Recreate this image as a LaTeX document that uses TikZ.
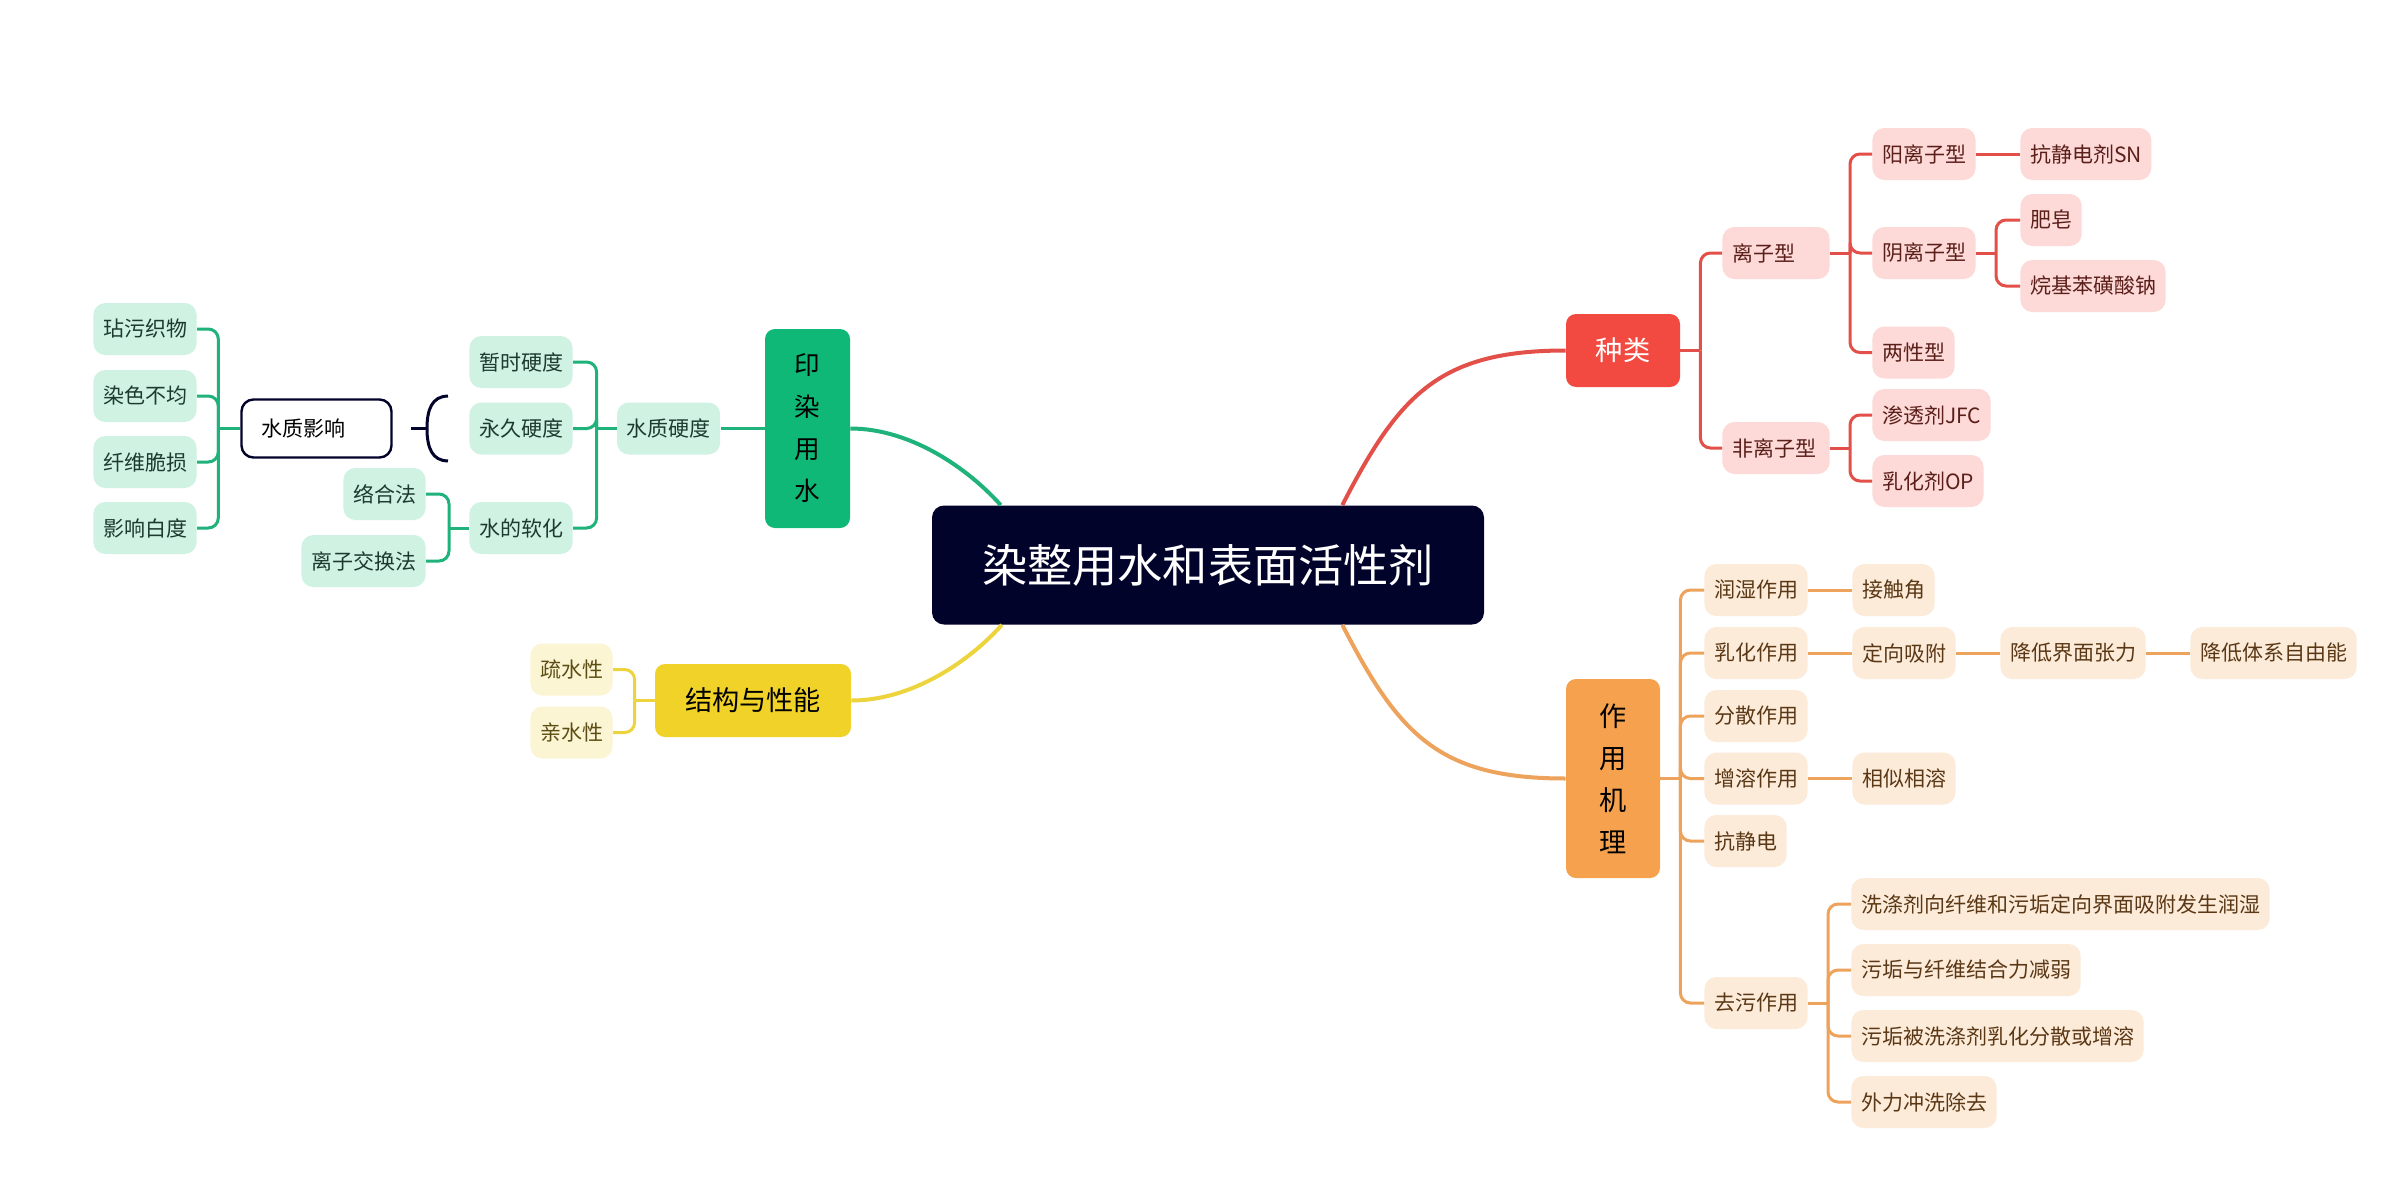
\documentclass[tikz,border=0pt]{standalone}
\usepackage{fontspec}
\setmainfont{Noto Sans CJK SC}
\usetikzlibrary{positioning,calc}
\definecolor{rootc}{HTML}{02032B}
\definecolor{gmain}{HTML}{10B877}
\definecolor{gline}{HTML}{1FB27A}
\definecolor{gsoft}{HTML}{CFF2E3}
\definecolor{gtext}{HTML}{1E3A2F}
\definecolor{rmain}{HTML}{F24A40}
\definecolor{rline}{HTML}{E25049}
\definecolor{rsoft}{HTML}{FDD9D7}
\definecolor{rtext}{HTML}{5B1F1A}
\definecolor{omain}{HTML}{F5A14E}
\definecolor{oline}{HTML}{EEA35C}
\definecolor{osoft}{HTML}{FDEBDA}
\definecolor{otext}{HTML}{5A3815}
\definecolor{ymain}{HTML}{F0D229}
\definecolor{yline}{HTML}{EDD43C}
\definecolor{ysoft}{HTML}{FCF5D4}
\definecolor{ytext}{HTML}{5B4D14}
\tikzset{
  rootbox/.style={fill=rootc,text=white,rounded corners=6pt,minimum width=276pt,
    minimum height=59.5pt,inner sep=0pt,font=\fontsize{22.6}{27}\selectfont},
  mainbox/.style={rounded corners=5pt,inner sep=0pt,align=center,
    font=\fontsize{13.6}{21}\selectfont},
  leaf/.style={rounded corners=6pt,minimum height=26pt,inner xsep=4.8pt,
    inner ysep=0pt,font=\fontsize{10.5}{12}\selectfont},
  gleaf/.style={leaf,fill=gsoft,text=gtext},
  rleaf/.style={leaf,fill=rsoft,text=rtext},
  oleaf/.style={leaf,fill=osoft,text=otext},
  yleaf/.style={leaf,fill=ysoft,text=ytext},
  sumbox/.style={draw=rootc,line width=1.2pt,fill=white,rounded corners=6pt,
    minimum height=29pt,text width=55pt,inner xsep=10pt,align=left,
    font=\fontsize{10.5}{12}\selectfont},
  gedge/.style={draw=gline,line width=1.5pt,rounded corners=5pt},
  redge/.style={draw=rline,line width=1.5pt,rounded corners=5pt},
  oedge/.style={draw=oline,line width=1.5pt,rounded corners=5pt},
  yedge/.style={draw=yline,line width=1.5pt,rounded corners=5pt},
  brk/.style={draw=rootc,line width=1.5pt},
}
\begin{document}
\begin{tikzpicture}[x=0.5pt,y=-0.5pt]
  \fill[white] (0,0) rectangle (2392,1194);
  \node[rootbox] (root) at (1208,565) {染整用水和表面活性剂};

  % 印染用水
  \node[mainbox,fill=gmain,text=black,minimum width=42.5pt,minimum height=99.5pt,
    font=\fontsize{12.8}{21}\selectfont] (yr) at (807.5,428.5) {印\\染\\用\\水};
  \node[gleaf,left=22pt of yr] (sy) {水质硬度};
  \coordinate[left=10pt of sy] (g1);
  \node[gleaf,anchor=east] (zs) at (573,362) {暂时硬度};
  \node[gleaf,anchor=east] (yj) at (573,428.5) {永久硬度};
  \node[gleaf,anchor=east] (rh) at (573,528) {水的软化};
  \coordinate[left=10pt of rh] (g2);
  \node[gleaf,anchor=east] (lh) at (426,494) {络合法};
  \node[gleaf,anchor=east] (lz) at (426,561) {离子交换法};
  \node[sumbox] (szy) at (316.5,428.5) {水质影响};
  \coordinate[left=11pt of szy] (g3);
  \node[gleaf,anchor=east] (dw) at (197,329) {玷污织物};
  \node[gleaf,anchor=east] (rsbj) at (197,396) {染色不均};
  \node[gleaf,anchor=east] (xw) at (197,462) {纤维脆损};
  \node[gleaf,anchor=east] (bd) at (197,528) {影响白度};
  \coordinate (bt) at ([xshift=-10.5pt,yshift=3pt]yj.north west);
  \coordinate (bm) at ([xshift=-21pt]yj.west);
  \coordinate (bb) at ([xshift=-10.5pt,yshift=-3pt]yj.south west);
  \coordinate (bs) at ([xshift=9pt]szy.east);

  \draw[gedge] (yr.west) -- (sy.east);
  \draw[gedge] (sy.west) -- (g1);
  \foreach \n in {zs,yj,rh} \draw[gedge] (g1) |- (\n.east);
  \draw[gedge] (rh.west) -- (g2);
  \foreach \n in {lh,lz} \draw[gedge] (g2) |- (\n.east);
  \draw[gedge] (szy.west) -- (g3);
  \foreach \n in {dw,rsbj,xw,bd} \draw[gedge] (g3) |- (\n.east);
  \draw[brk] (bt) .. controls +(-16,0) and +(0,-19) .. (bm)
    .. controls +(0,19) and +(-16,0) .. (bb);
  \draw[brk] (bm) -- (bs);

  % 结构与性能
  \node[mainbox,fill=ymain,text=black,minimum width=98pt,minimum height=36.5pt] (jg)
    at (753,700.5) {结构与性能};
  \coordinate[left=10pt of jg] (y1);
  \node[yleaf,anchor=east] (ss) at (613,669.5) {疏水性};
  \node[yleaf,anchor=east] (qs) at (613,732.5) {亲水性};
  \draw[yedge] (jg.west) -- (y1);
  \foreach \n in {ss,qs} \draw[yedge] (y1) |- (\n.east);

  % 种类
  \node[mainbox,fill=rmain,text=white,minimum width=57pt,minimum height=36.5pt] (zl)
    at (1623,350.5) {种类};
  \coordinate[right=10pt of zl] (r1);
  \node[rleaf,anchor=west,text width=44pt,align=left] (lzx) at (1722,253) {离子型};
  \node[rleaf,anchor=west,text width=44pt,align=left] (flz) at (1722,448) {非离子型};
  \coordinate[right=10pt of lzx] (r2);
  \node[rleaf,anchor=west] (yang) at (1872,154) {阳离子型};
  \node[rleaf,anchor=west] (yin) at (1872,253) {阴离子型};
  \node[rleaf,anchor=west] (lx) at (1872,352.5) {两性型};
  \node[rleaf,right=22pt of yang] (kj) {抗静电剂SN};
  \coordinate[right=10pt of yin] (r3);
  \node[rleaf,anchor=west] (fz) at (2020,220) {肥皂};
  \node[rleaf,anchor=west] (wj) at (2020,286) {烷基苯磺酸钠};
  \coordinate[right=10pt of flz] (r4);
  \node[rleaf,anchor=west] (st) at (1872,415) {渗透剂JFC};
  \node[rleaf,anchor=west] (op) at (1872,481) {乳化剂OP};

  \draw[redge] (zl.east) -- (r1);
  \foreach \n in {lzx,flz} \draw[redge] (r1) |- (\n.west);
  \draw[redge] (lzx.east) -- (r2);
  \foreach \n in {yang,yin,lx} \draw[redge] (r2) |- (\n.west);
  \draw[redge] (yang.east) -- (kj.west);
  \draw[redge] (yin.east) -- (r3);
  \foreach \n in {fz,wj} \draw[redge] (r3) |- (\n.west);
  \draw[redge] (flz.east) -- (r4);
  \foreach \n in {st,op} \draw[redge] (r4) |- (\n.west);

  % 作用机理
  \node[mainbox,fill=omain,text=black,minimum width=47pt,minimum height=99.5pt] (zy)
    at (1613,778.5) {作\\用\\机\\理};
  \coordinate[right=10pt of zy] (o1);
  \node[oleaf,anchor=west] (rsz) at (1704,590) {润湿作用};
  \node[oleaf,anchor=west] (rhz) at (1704,653) {乳化作用};
  \node[oleaf,anchor=west] (fs) at (1704,716) {分散作用};
  \node[oleaf,anchor=west] (zr) at (1704,778.5) {增溶作用};
  \node[oleaf,anchor=west] (kjd) at (1704,841) {抗静电};
  \node[oleaf,anchor=west] (qw) at (1704,1003) {去污作用};
  \node[oleaf,right=22pt of rsz] (jcj) {接触角};
  \node[oleaf,right=22pt of rhz] (dx) {定向吸附};
  \node[oleaf,right=22pt of dx] (jd) {降低界面张力};
  \node[oleaf,right=22pt of jd] (jt) {降低体系自由能};
  \node[oleaf,right=22pt of zr] (xs) {相似相溶};
  \coordinate[right=10pt of qw] (o2);
  \node[oleaf,anchor=west] (q1) at (1851,904) {洗涤剂向纤维和污垢定向界面吸附发生润湿};
  \node[oleaf,anchor=west] (q2) at (1851,970) {污垢与纤维结合力减弱};
  \node[oleaf,anchor=west] (q3) at (1851,1036) {污垢被洗涤剂乳化分散或增溶};
  \node[oleaf,anchor=west] (q4) at (1851,1102) {外力冲洗除去};

  \draw[oedge] (zy.east) -- (o1);
  \foreach \n in {rsz,rhz,fs,zr,kjd,qw} \draw[oedge] (o1) |- (\n.west);
  \draw[oedge] (rsz.east) -- (jcj.west);
  \draw[oedge] (rhz.east) -- (dx.west);
  \draw[oedge] (dx.east) -- (jd.west);
  \draw[oedge] (jd.east) -- (jt.west);
  \draw[oedge] (zr.east) -- (xs.west);
  \draw[oedge] (qw.east) -- (o2);
  \foreach \n in {q1,q2,q3,q4} \draw[oedge] (o2) |- (\n.west);

  % main branches
  \draw[gline,line width=2pt] ($(root.north west)!0.125!(root.north east)$)
    .. controls +(-33,-37) and +(60,0) .. (yr.east);
  \draw[yline,line width=2pt] ($(root.south west)!0.127!(root.south east)$)
    .. controls +(-33,37) and +(60,0) .. (jg.east);
  \draw[rline,line width=2pt] ($(root.north west)!0.743!(root.north east)$)
    .. controls +(57,-111) and +(-126,0) .. (zl.west);
  \draw[oline,line width=2pt] ($(root.south west)!0.743!(root.south east)$)
    .. controls +(57,111) and +(-126,0) .. (zy.west);
\end{tikzpicture}
\end{document}
